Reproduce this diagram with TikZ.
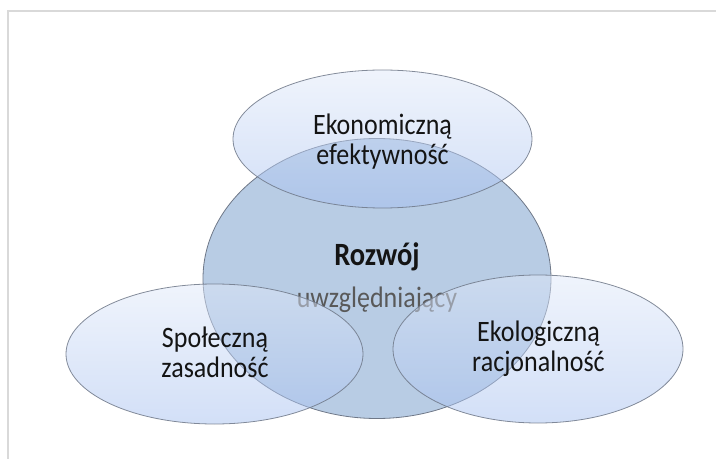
\documentclass[tikz,border=0pt]{standalone}
\usepackage{fontspec}
\usepackage{graphicx}
\setmainfont{Carlito}
\usetikzlibrary{shapes.geometric}
\definecolor{frameC}{HTML}{D9D9D9}
\definecolor{coreC}{HTML}{B8CCE4}
\definecolor{outlineC}{HTML}{6F7888}
\definecolor{lightTop}{HTML}{E0E9F9}
\definecolor{lightBot}{HTML}{A6C0F0}
\definecolor{grayTxt}{HTML}{595959}
\newcommand{\vtxt}[1]{\scalebox{1}[1.14]{\begin{tabular}[t]{@{}c@{}}#1\end{tabular}}}
\tikzset{
  core/.style={ellipse, draw=outlineC, line width=0.8bp, fill=coreC, inner sep=0pt,
    minimum width=348bp, minimum height=280bp},
  petal/.style={ellipse, draw=outlineC, line width=0.8bp, inner sep=0pt,
    top color=lightTop, bottom color=lightBot, fill opacity=0.5, draw opacity=0.85},
  lbl/.style={anchor=base, text=black!92, font=\fontsize{26bp}{25.6bp}\selectfont, inner sep=0pt},
}
\begin{document}
\begin{tikzpicture}[x=1bp,y=-1bp]
\useasboundingbox (0,0) rectangle (716,459);
\draw[frameC, line width=1.6bp] (8,459) -- (8,11) -- (716,11);
\node[core] (core) at (377,278.5) {};
\node[lbl, font=\fontsize{28.5bp}{30bp}\selectfont\bfseries] (rozwoj) at (377,266) {\vtxt{Rozwój}};
\node[lbl, text=grayTxt] (uwz) at (377,308) {\vtxt{uwzględniający}};
\node[petal, minimum width=299bp, minimum height=138bp] (top) at (382.5,139) {};
\node[petal, minimum width=297bp, minimum height=140bp] (left) at (214.5,354) {};
\node[petal, minimum width=290bp, minimum height=148bp] (right) at (538,349) {};
\node[lbl] (topt) at (382.5,135) {\vtxt{Ekonomiczną\\efektywność}};
\node[lbl] (leftt) at (215,348) {\vtxt{Społeczną\\zasadność}};
\node[lbl] (rightt) at (538.5,342) {\vtxt{Ekologiczną\\racjonalność}};
\end{tikzpicture}
\end{document}
